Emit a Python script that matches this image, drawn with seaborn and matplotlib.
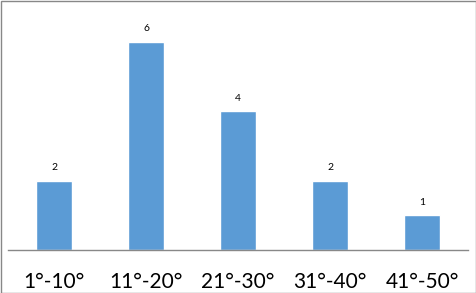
import matplotlib
matplotlib.use("Agg")
import matplotlib.pyplot as plt
import seaborn as sns
import pandas as pd
from matplotlib.patches import Rectangle

categories = ["1°-10°", "11°-20°", "21°-30°", "31°-40°", "41°-50°"]
values = [2, 6, 4, 2, 1]

sns.set_theme(style="white")
plt.rcParams['font.family'] = ['Lato', 'DejaVu Sans']

df = pd.DataFrame({"cat": categories, "val": values})

fig = plt.figure(figsize=(4.76, 2.93), dpi=100)
ax = fig.add_axes([8/476, 43/293, 460/476, 238/293])
sns.barplot(data=df, x="cat", y="val", color="#5B9BD5", saturation=1, width=0.4, ax=ax)
ax.set_ylim(0, 6.85)
ax.set_xlim(-0.5, 4.5)
ax.set_xlabel("")
ax.set_ylabel("")
ax.set_yticks([])
for s in ["top", "right", "left"]:
    ax.spines[s].set_visible(False)
ax.spines["bottom"].set_color("#888888")
ax.spines["bottom"].set_linewidth(1)
ax.tick_params(axis="x", length=0, pad=15.5, labelsize=15, labelcolor="black")
for c in ax.containers:
    ax.bar_label(c, labels=[str(v) for v in values], padding=6, fontsize=7.5, color="black")
fig.add_artist(Rectangle((0.5/476, 0.5/293), 475/476, 292/293, transform=fig.transFigure,
                         fill=False, edgecolor="#888888", linewidth=1))
fig.savefig("out.png", dpi=100)
